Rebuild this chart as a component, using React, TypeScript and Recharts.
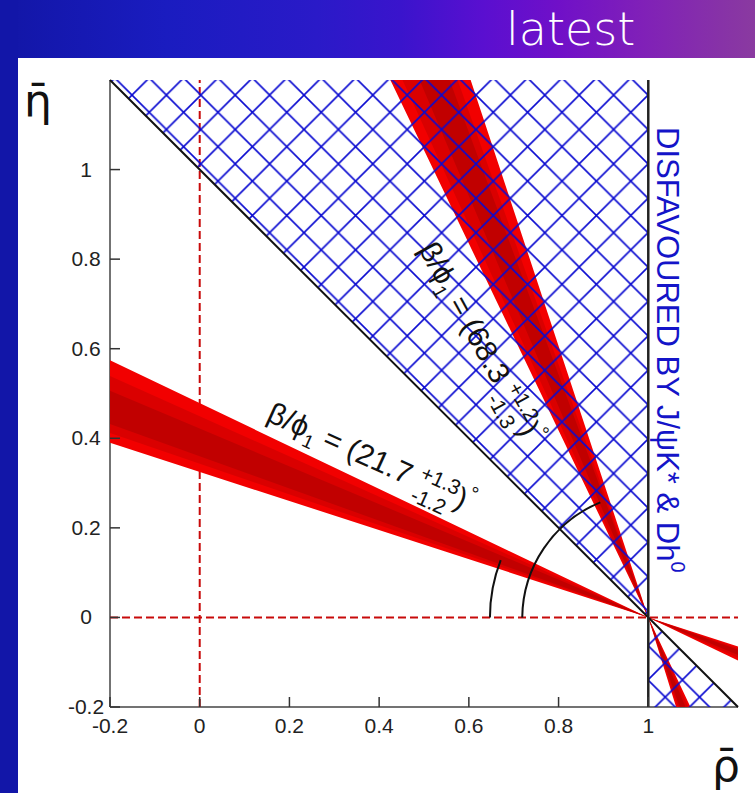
import React from 'react';
import { ScatterChart, Scatter, XAxis, YAxis } from 'recharts';

const axisTicks = [-0.2, 0, 0.2, 0.4, 0.6, 0.8, 1];
const frame: [number, number] = [-0.2, 1.2];

// both wedges start from (rho, eta) = (1, 0)
const apex = { x: 1, y: 0 };

// beta/phi1 = 21.7 band: eta of the edges where they leave the frame at rho = -0.2 and rho = 1.2
// order is outer (light), middle, inner (dark)
const shallowLeft = [[0.39, 0.574], [0.412, 0.539], [0.432, 0.506]];
const shallowRight = [[-0.096, -0.065], [-0.09, -0.069], [-0.084, -0.072]];

// beta/phi1 = 68.3 band: rho of the edges at eta = 1.2 and eta = -0.2
const steepTop = [[0.425, 0.604], [0.452, 0.575], [0.49, 0.557]];
const steepBottom = [[1.062, 1.094], [1.066, 1.089], [1.07, 1.083]];

const bandColors = ['#f20000', '#da0000', '#c10000'];

// disfavoured regions
const hatchUpper = [{ x: -0.2, y: 1.2 }, { x: 1, y: 0 }, { x: 1, y: 1.2 }];
const hatchLower = [{ x: 1, y: 0 }, { x: 1, y: -0.2 }, { x: 1.2, y: -0.2 }];

const diagLine = [{ x: -0.2, y: 1.2 }, { x: 1.2, y: -0.2 }];
const rhoOneLine = [{ x: 1, y: -0.2 }, { x: 1, y: 1.2 }];
const rhoZeroLine = [{ x: 0, y: -0.2 }, { x: 0, y: 1.2 }];
const etaZeroLine = [{ x: -0.2, y: 0 }, { x: 1.2, y: 0 }];

// angle arcs: centre, start on the rho axis, end on the band
const arcBeta = [apex, { x: 0.647, y: 0 }, { x: 0.671, y: 0.128 }];
const arcBeta2 = [apex, { x: 0.719, y: 0 }, { x: 0.893, y: 0.257 }];

const shallowBands = shallowLeft.map((l, i) => [
  { x: -0.2, y: l[1] }, { x: -0.2, y: l[0] }, apex,
  { x: 1.2, y: shallowRight[i][1] }, { x: 1.2, y: shallowRight[i][0] }, apex,
]);
const steepBands = steepTop.map((t, i) => [
  { x: t[0], y: 1.2 }, { x: t[1], y: 1.2 }, apex,
  { x: steepBottom[i][0], y: -0.2 }, { x: steepBottom[i][1], y: -0.2 }, apex,
]);

const font = "'Liberation Sans', Arial, sans-serif";
const fmt = (v: number) => String(Math.round(v * 10) / 10);
const noDot = () => <g />;
const pts = (p: any) => p.points.map((q: any) => `${q.x},${q.y}`).join(' ');

const polygon = (fill: string) => (p: any) => (
  <polygon points={pts(p)} fill={fill} fillRule="evenodd" stroke="none" />
);
const polyline = (stroke: string, width: number, dash?: string) => (p: any) => (
  <polyline points={pts(p)} fill="none" stroke={stroke} strokeWidth={width} strokeDasharray={dash} />
);
const arc = (p: any) => {
  const [c, s, e] = p.points;
  const r = Math.hypot(s.x - c.x, s.y - c.y);
  return <path d={`M${s.x},${s.y} A${r},${r} 0 0 1 ${e.x},${e.y}`} fill="none" stroke="#111" strokeWidth={2} />;
};

const BottomTick = (props: any) => {
  const { x, y, payload } = props;
  return (
    <g>
      <line x1={x} y1={y} x2={x} y2={y - 10} stroke="#333" strokeWidth={1.5} />
      <text x={x} y={y + 26} textAnchor="middle" fontSize={21} fill="#222" fontFamily={font}>{fmt(payload.value)}</text>
    </g>
  );
};
const LeftTick = (props: any) => {
  const { x, y, payload } = props;
  return (
    <g>
      <line x1={x} y1={y} x2={x + 10} y2={y} stroke="#333" strokeWidth={1.5} />
      <text x={x - 24} y={y + 7} textAnchor="middle" fontSize={21} fill="#222" fontFamily={font}>{fmt(payload.value)}</text>
    </g>
  );
};
const TopTick = (props: any) => (
  <line x1={props.x} y1={props.y} x2={props.x} y2={props.y + 10} stroke="#111" strokeWidth={1.5} />
);
const RightTick = (props: any) => (
  <line x1={props.x} y1={props.y} x2={props.x - 10} y2={props.y} stroke="#111" strokeWidth={1.5} />
);

const AngleText = ({ cx, cy, rotate, central, up, down }: any) => (
  <g transform={`translate(${cx},${cy}) rotate(${rotate})`}>
    <text fontSize={30} fill="#111" fontFamily={font}>
      {'β/ϕ'}
      <tspan fontSize={19} dy={8}>1</tspan>
      <tspan dy={-8}>{' = (' + central + ' '}</tspan>
      <tspan fontSize={21} dy={-11}>{up}</tspan>
      <tspan fontSize={21} dx={-41.5} dy={24}>{down}</tspan>
      <tspan dx={6} dy={-13}>)</tspan>
      <tspan fontSize={20} dy={-13}>°</tspan>
    </text>
  </g>
);

const DisfavouredText = ({ cx, cy }: any) => (
  <g transform={`translate(${cx},${cy}) rotate(90)`}>
    <text fontSize={31} fill="#1414c8" fontFamily={font}>
      {'DISFAVOURED BY J/ψK* & Dh'}
      <tspan fontSize={20} dy={-14}>0</tspan>
    </text>
  </g>
);

export default function App() {
  return (
    <div style={{ position: 'absolute', left: 0, top: 0, width: 755, height: 793, overflow: 'hidden', background: '#fff' }}>
      <div style={{ position: 'absolute', left: 0, top: 0, width: 755, height: 58,
        background: 'linear-gradient(90deg, #1216a6 0%, #1a1cc0 22%, #2a1ac8 42%, #3a14cc 53%, #5a0fd0 64%, #7010c8 74%, #8020b8 85%, #8a3aa0 100%)' }} />
      <div style={{ position: 'absolute', left: 0, top: 0, width: 18, height: 793, background: '#1216a8' }} />
      <div style={{ position: 'absolute', left: 506, top: 6, fontSize: 46, lineHeight: '46px', color: '#fff',
        fontFamily: "'DejaVu Sans', sans-serif", fontWeight: 200 }}>latest</div>
      <div style={{ position: 'absolute', left: 0, top: 0 }}>
        <ScatterChart width={755} height={793} margin={{ top: 80, right: 17, bottom: 56, left: 50 }}>
          <defs>
            <pattern id="hatch" patternUnits="userSpaceOnUse" width={34.4} height={34.4} x={648} y={129.5}>
              <path d="M-2,-2 L36.4,36.4 M36.4,-2 L-2,36.4" stroke="#0a0ad0" strokeWidth={1.6} />
            </pattern>
          </defs>
          <XAxis dataKey="x" type="number" domain={frame} ticks={axisTicks} interval={0} height={30}
            tickLine={false} tickSize={0} tickMargin={0} tick={BottomTick} axisLine={{ stroke: '#444', strokeWidth: 1.5 }} />
          <YAxis dataKey="y" type="number" domain={frame} ticks={axisTicks} interval={0} width={60}
            tickLine={false} tickSize={0} tickMargin={0} tick={LeftTick} axisLine={{ stroke: '#444', strokeWidth: 1.5 }} />
          <XAxis xAxisId="top" orientation="top" type="number" domain={frame} ticks={axisTicks} interval={0} height={0}
            tickLine={false} tickSize={0} tickMargin={0} tick={TopTick} axisLine={{ stroke: '#111', strokeWidth: 1.8 }} />
          <YAxis yAxisId="right" orientation="right" type="number" domain={frame} ticks={axisTicks} interval={0} width={0}
            tickLine={false} tickSize={0} tickMargin={0} tick={RightTick} axisLine={{ stroke: '#111', strokeWidth: 1.8 }} />

          <Scatter data={rhoZeroLine} shape={noDot} line={polyline('#c80a0a', 2, '8 4')} isAnimationActive={false} />
          <Scatter data={etaZeroLine} shape={noDot} line={polyline('#c80a0a', 2, '8 4')} isAnimationActive={false} />

          {shallowBands.map((b, i) => (
            <Scatter key={'s' + i} data={b} shape={noDot} line={polygon(bandColors[i])} isAnimationActive={false} />
          ))}
          {steepBands.map((b, i) => (
            <Scatter key={'t' + i} data={b} shape={noDot} line={polygon(bandColors[i])} isAnimationActive={false} />
          ))}

          <Scatter data={hatchUpper} shape={noDot} line={polygon('url(#hatch)')} isAnimationActive={false} />
          <Scatter data={hatchLower} shape={noDot} line={polygon('url(#hatch)')} isAnimationActive={false} />

          <Scatter data={diagLine} shape={noDot} line={polyline('#111', 2)} isAnimationActive={false} />
          <Scatter data={rhoOneLine} shape={noDot} line={polyline('#222', 2.5)} isAnimationActive={false} />

          <Scatter data={arcBeta} shape={noDot} line={arc} isAnimationActive={false} />
          <Scatter data={arcBeta2} shape={noDot} line={arc} isAnimationActive={false} />

          <Scatter data={[{ x: 0.146, y: 0.44 }]} isAnimationActive={false}
            shape={(p: any) => <AngleText cx={p.cx} cy={p.cy} rotate={24.5} central="21.7" up="+1.3" down="-1.2" />} />
          <Scatter data={[{ x: 0.487, y: 0.822 }]} isAnimationActive={false}
            shape={(p: any) => <AngleText cx={p.cx} cy={p.cy} rotate={61} central="68.3" up="+1.2" down="-1.3" />} />
          <Scatter data={[{ x: 1.019, y: 1.095 }]} isAnimationActive={false}
            shape={(p: any) => <DisfavouredText cx={p.cx} cy={p.cy} />} />
        </ScatterChart>
      </div>
      <div style={{ position: 'absolute', left: 24, top: 79, fontSize: 44, lineHeight: '44px', color: '#111',
        fontFamily: "'DejaVu Sans', sans-serif" }}>{'η\u0304'}</div>
      <div style={{ position: 'absolute', left: 712, top: 744, fontSize: 44, lineHeight: '44px', color: '#111',
        fontFamily: "'DejaVu Sans', sans-serif" }}>{'ρ\u0304'}</div>
    </div>
  );
}
